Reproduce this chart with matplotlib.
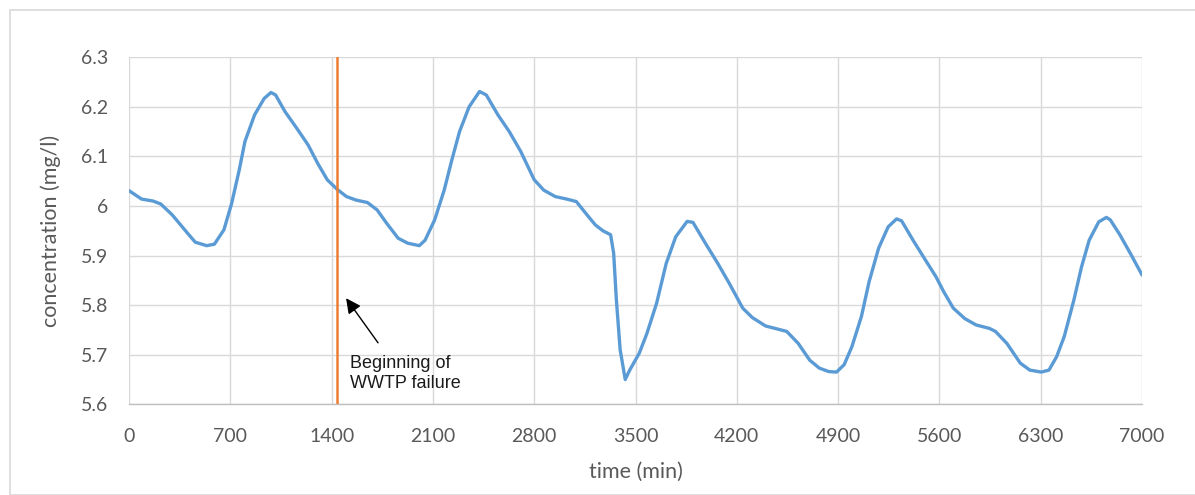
import matplotlib
matplotlib.use("Agg")
import matplotlib.pyplot as plt
from matplotlib.patches import Rectangle

# ---- data ----
time_min = [0, 87, 167, 220, 299, 405, 458, 537, 590, 656, 709, 762, 801, 868, 934, 981,
            1013, 1079, 1159, 1238, 1304, 1370, 1437, 1503, 1569, 1648, 1715, 1781, 1860,
            1926, 2006, 2046, 2112, 2178, 2231, 2284, 2350, 2422, 2469, 2549, 2628, 2707,
            2800, 2866, 2946, 3025, 3091, 3157, 3222, 3275, 3328, 3349, 3368, 3394, 3429,
            3460, 3526, 3579, 3646, 3712, 3778, 3857, 3897, 3989, 4069, 4148, 4241, 4307,
            4399, 4466, 4545, 4624, 4704, 4770, 4836, 4889, 4942, 4995, 5061, 5114, 5180,
            5246, 5304, 5339, 5418, 5497, 5577, 5630, 5696, 5775, 5854, 5947, 5987, 6066,
            6159, 6225, 6304, 6357, 6410, 6463, 6529, 6582, 6635, 6701, 6754, 6781, 6847,
            6926, 7000]
concentration = [6.031, 6.014, 6.010, 6.004, 5.982, 5.945, 5.927, 5.920, 5.923, 5.952, 6.005,
                 6.073, 6.130, 6.184, 6.217, 6.229, 6.224, 6.190, 6.157, 6.123, 6.086, 6.053,
                 6.034, 6.019, 6.012, 6.007, 5.992, 5.965, 5.935, 5.925, 5.920, 5.931, 5.972,
                 6.032, 6.093, 6.150, 6.200, 6.231, 6.224, 6.184, 6.150, 6.110, 6.053, 6.032,
                 6.019, 6.014, 6.009, 5.985, 5.962, 5.950, 5.942, 5.905, 5.810, 5.710, 5.650,
                 5.669, 5.703, 5.743, 5.804, 5.884, 5.938, 5.969, 5.967, 5.922, 5.884, 5.844,
                 5.794, 5.775, 5.758, 5.753, 5.747, 5.723, 5.689, 5.673, 5.666, 5.665, 5.680,
                 5.716, 5.777, 5.847, 5.915, 5.958, 5.974, 5.970, 5.931, 5.894, 5.857, 5.827,
                 5.794, 5.773, 5.760, 5.753, 5.747, 5.723, 5.683, 5.669, 5.665, 5.669, 5.696,
                 5.737, 5.810, 5.877, 5.931, 5.968, 5.977, 5.972, 5.942, 5.901, 5.861]
failure_time = 1440
x_ticks = [0, 700, 1400, 2100, 2800, 3500, 4200, 4900, 5600, 6300, 7000]
y_ticks = [5.6, 5.7, 5.8, 5.9, 6.0, 6.1, 6.2, 6.3]
y_tick_labels = ["5.6", "5.7", "5.8", "5.9", "6", "6.1", "6.2", "6.3"]
annotation_text = "Beginning of\nWWTP failure"
arrow_head = (1500, 5.814)
arrow_tail = (1721, 5.724)
text_pos = (1527, 5.700)

plt.rcParams['font.family'] = ['Lato', 'DejaVu Sans']

W, H = 1195, 495
fig = plt.figure(figsize=(W / 100, H / 100), dpi=100)
fig.patch.set_facecolor('white')

# outer chart border
fig.patches.append(Rectangle((10 / W, 0), 1.2, (H - 10) / H, transform=fig.transFigure,
                             fill=False, edgecolor='#d9d9d9', linewidth=1.2))

ax = fig.add_axes([129 / W, (H - 404.3) / H, (1142 - 129) / W, (404.3 - 57.3) / H])
ax.plot(time_min, concentration, color='#5b9bd5', linewidth=2.4, solid_capstyle='round',
        solid_joinstyle='round', zorder=3)
ax.axvline(failure_time, color='#ed7d31', linewidth=1.8, zorder=4)

ax.set_xlim(0, 7000)
ax.set_ylim(5.6, 6.3)
ax.set_xticks(x_ticks)
ax.set_yticks(y_ticks)
ax.set_yticklabels(y_tick_labels)
ax.grid(True, color='#d9d9d9', linewidth=1.0)
ax.set_axisbelow(True)
for s in ['top', 'right', 'left']:
    ax.spines[s].set_visible(False)
ax.spines['bottom'].set_color('#bfbfbf')
ax.spines['bottom'].set_linewidth(1.0)
ax.tick_params(axis='both', length=0, labelsize=14, labelcolor='#595959')
ax.tick_params(axis='x', pad=17)
ax.tick_params(axis='y', pad=15)

ax.set_xlabel('time (min)', fontsize=15.5, color='#595959', labelpad=12)
ax.set_ylabel('concentration (mg/l)', fontsize=15.5, color='#595959', labelpad=14)

ax.annotate('', xy=arrow_head, xytext=arrow_tail,
            arrowprops=dict(arrowstyle='-|>,head_length=0.9,head_width=0.45',
                            color='black', linewidth=1.0, shrinkA=0, shrinkB=0))
ax.text(text_pos[0], text_pos[1], annotation_text, ha='left', va='top', fontsize=13,
        family=['Liberation Sans Narrow', 'Liberation Sans', 'DejaVu Sans'],
        color='#1a1a1a', linespacing=1.25)

fig.savefig('out.png', dpi=100, facecolor='white')
